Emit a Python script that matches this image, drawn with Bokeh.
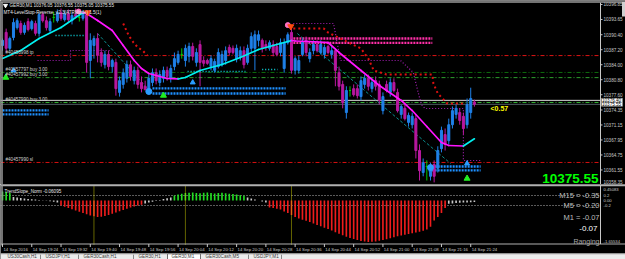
from bokeh.plotting import figure
from bokeh.layouts import column
from bokeh.models import Range1d
from bokeh.embed import file_html
from bokeh.resources import INLINE
from bokeh.core.properties import value

# ---------------- data ----------------
symbol_header = "GER30,M1  10376.05 10376.55 10375.05 10375.55"
indicator_header = "MT4-LevelStop-Reverse_v2.3(ATRMode) 1.5(1)"

bars = list(range(130))  # one-minute bars from 19:16 to 21:25
opens = [10388.1, 10390.9, 10387.5, 10389.8, 10391.9, 10392.8, 10390.9, 10393.2, 10391.7, 10392.8,
         10390.7, 10394.7, 10393.4, 10391.3, 10394.1, 10393.4, 10395.1, 10393.6, 10394.9, 10393.4,
         10394.7, 10394.1, 10393.9, 10394.7, 10384.9, 10388.1, 10389.6, 10386.6, 10384.0, 10386.2,
         10383.6, 10384.5, 10378.1, 10379.8, 10381.1, 10384.0, 10380.6, 10382.8, 10380.2, 10379.4,
         10378.5, 10380.2, 10382.3, 10380.2, 10381.1, 10382.8, 10381.1, 10383.6, 10384.5, 10386.2,
         10384.9, 10385.8, 10387.9, 10384.5, 10388.3, 10384.9, 10384.9, 10383.6, 10382.8, 10383.6,
         10384.0, 10384.9, 10387.7, 10387.5, 10385.3, 10385.8, 10387.0, 10384.5, 10387.5, 10387.5,
         10389.2, 10389.2, 10388.3, 10387.5, 10388.3, 10387.9, 10386.6, 10383.2, 10388.7, 10390.9,
         10382.8, 10382.8, 10386.2, 10389.2, 10385.3, 10387.0, 10388.3, 10386.6, 10386.2, 10387.9,
         10386.2, 10387.0, 10382.3, 10379.8, 10373.8, 10378.5, 10378.9, 10378.9, 10377.2, 10379.8,
         10381.1, 10378.9, 10380.6, 10379.8, 10374.2, 10379.8, 10378.1, 10380.2, 10378.1, 10373.4,
         10374.7, 10371.7, 10371.2, 10372.5, 10365.7, 10361.0, 10362.3, 10360.2, 10362.7, 10361.9,
         10366.1, 10369.1, 10367.8, 10371.2, 10373.4, 10373.8, 10373.0, 10371.2, 10373.8, 10376.05]
highs = [10389.6, 10391.7, 10390.0, 10393.9, 10393.9, 10393.4, 10393.0, 10393.9, 10393.6, 10393.4,
         10395.1, 10395.3, 10394.3, 10393.9, 10395.3, 10395.8, 10396.0, 10395.6, 10395.8, 10395.1,
         10396.0, 10395.1, 10395.6, 10395.1, 10390.7, 10390.2, 10390.7, 10387.5, 10387.0, 10387.0,
         10385.3, 10385.3, 10381.5, 10383.2, 10384.9, 10384.9, 10383.6, 10383.6, 10381.5, 10380.6,
         10381.9, 10383.2, 10383.2, 10382.8, 10383.6, 10383.6, 10384.0, 10386.6, 10387.0, 10387.5,
         10388.3, 10388.7, 10388.7, 10387.5, 10389.2, 10385.8, 10385.3, 10386.0, 10385.3, 10387.5,
         10387.0, 10387.9, 10388.3, 10388.1, 10388.3, 10387.9, 10387.9, 10388.3, 10390.9, 10391.3,
         10391.3, 10389.6, 10389.2, 10389.2, 10389.2, 10388.7, 10389.6, 10389.6, 10390.9, 10391.9,
         10385.8, 10386.0, 10389.6, 10390.0, 10387.5, 10389.2, 10389.2, 10389.2, 10388.3, 10388.3,
         10387.9, 10387.5, 10383.6, 10380.6, 10379.4, 10379.4, 10379.8, 10379.8, 10381.5, 10381.9,
         10381.9, 10381.1, 10381.5, 10380.6, 10378.1, 10380.6, 10381.1, 10381.1, 10378.9, 10375.5,
         10375.5, 10373.8, 10373.8, 10373.4, 10367.0, 10364.0, 10363.6, 10363.1, 10363.6, 10366.6,
         10370.8, 10370.4, 10372.5, 10375.1, 10375.5, 10374.7, 10373.8, 10376.8, 10379.1, 10376.55]
lows = [10387.0, 10386.6, 10387.0, 10389.2, 10391.5, 10390.4, 10390.4, 10391.1, 10391.3, 10390.2,
        10390.0, 10393.0, 10391.3, 10390.9, 10393.0, 10393.0, 10393.4, 10393.2, 10393.0, 10392.6,
        10393.9, 10393.2, 10393.4, 10382.3, 10381.1, 10385.3, 10384.5, 10383.6, 10383.2, 10382.8,
        10382.3, 10377.4, 10377.2, 10378.9, 10380.2, 10380.6, 10379.8, 10378.9, 10378.1, 10378.5,
        10377.6, 10379.4, 10379.8, 10379.4, 10380.2, 10380.6, 10380.2, 10382.8, 10384.0, 10385.3,
        10383.6, 10384.5, 10384.9, 10383.6, 10379.4, 10383.6, 10384.0, 10382.8, 10382.3, 10383.2,
        10383.6, 10384.0, 10386.0, 10386.2, 10384.5, 10384.9, 10383.2, 10384.0, 10386.6, 10382.8,
        10387.9, 10386.6, 10387.0, 10387.0, 10385.8, 10385.8, 10385.8, 10382.3, 10388.3, 10382.1,
        10381.9, 10382.1, 10385.8, 10385.8, 10384.5, 10386.2, 10386.6, 10386.2, 10385.3, 10386.2,
        10385.3, 10379.4, 10378.5, 10374.7, 10372.5, 10377.2, 10377.2, 10376.8, 10376.4, 10378.9,
        10378.5, 10378.1, 10378.5, 10375.5, 10373.4, 10378.1, 10377.2, 10378.1, 10373.8, 10372.5,
        10372.1, 10370.8, 10370.4, 10364.0, 10359.3, 10360.2, 10359.3, 10359.3, 10358.9, 10361.0,
        10365.3, 10365.7, 10367.0, 10370.4, 10372.5, 10371.2, 10369.1, 10370.4, 10372.5, 10375.05]
closes = [10389.2, 10387.5, 10389.6, 10393.0, 10393.4, 10390.9, 10392.4, 10391.5, 10393.2, 10390.7,
          10394.7, 10393.4, 10391.9, 10393.2, 10394.1, 10395.1, 10393.9, 10394.9, 10393.6, 10394.5,
          10394.3, 10394.1, 10394.9, 10384.5, 10389.2, 10389.6, 10386.0, 10384.5, 10386.2, 10383.6,
          10384.9, 10378.9, 10380.6, 10382.3, 10384.0, 10381.5, 10382.8, 10379.8, 10378.9, 10378.7,
          10381.1, 10382.3, 10380.6, 10381.9, 10382.8, 10381.5, 10383.2, 10385.3, 10386.2, 10386.2,
          10387.5, 10387.9, 10385.8, 10386.6, 10384.5, 10384.3, 10384.3, 10385.3, 10384.7, 10386.6,
          10386.2, 10387.0, 10386.6, 10386.6, 10387.5, 10387.0, 10384.0, 10387.5, 10390.0, 10390.4,
          10390.4, 10387.5, 10387.7, 10388.7, 10386.6, 10386.2, 10388.7, 10388.7, 10390.4, 10382.8,
          10385.3, 10384.9, 10388.7, 10386.6, 10386.6, 10388.3, 10387.0, 10388.3, 10387.7, 10386.6,
          10387.0, 10382.8, 10379.4, 10375.9, 10378.5, 10378.5, 10377.6, 10377.4, 10380.6, 10381.1,
          10379.4, 10380.2, 10379.4, 10376.4, 10377.2, 10378.5, 10380.2, 10378.5, 10374.2, 10375.1,
          10372.5, 10373.2, 10373.0, 10365.7, 10361.4, 10363.1, 10362.3, 10362.3, 10360.2, 10365.7,
          10370.0, 10367.0, 10371.2, 10374.2, 10374.7, 10372.1, 10370.4, 10375.5, 10376.8, 10375.55]

# moving average (read at key bars)
ma_bars = [0, 5, 10, 16, 22, 23, 26, 30, 33, 36, 38, 40, 43, 45, 48, 50, 54, 60, 65, 70,
           75, 79, 80, 84, 89, 92, 98, 103, 109, 112, 116, 120, 122, 126, 129]
ma_vals = [10385.33, 10387.03, 10389.59, 10391.94, 10395.14, 10394.93, 10393.43, 10391.30, 10388.10, 10384.90,
           10383.20, 10382.13, 10381.49, 10381.06, 10380.96, 10381.28, 10382.77, 10384.05, 10385.54, 10387.25,
           10388.31, 10389.17, 10389.06, 10388.95, 10388.74, 10386.61, 10382.77, 10379.57, 10376.37, 10374.23,
           10370.82, 10367.41, 10366.77, 10366.66, 10368.20]

# order lines
order_levels = [10385.95, 10382.35, 10381.25, 10375.95, 10363.15]
order_labels = ["#40456998 tp", "#40457797 buy 3.00", "#40457992 buy 3.00", "#40457990 buy 3.00", "#40457990 sl"]
ask_price = 10376.40
bid_price = 10375.55

# level-stop zones (two rows each)
band_start = [0.0, 41.0, 78.7, 116.5]
band_end = [12.6, 77.4, 117.5, 130.7]
band_upper = [10374.25, 10378.95, 10389.60, 10362.30]
band_lower = [10373.40, 10377.85, 10388.65, 10361.45]
band_kind = ["buy", "buy", "sell", "buy"]

# stop lines
purple_stop_a_bars = [9.6, 18.6, 18.6, 29.5]
purple_stop_a_vals = [10384.90, 10384.90, 10387.03, 10387.03]
purple_stop_b_bars = [79.5, 90.5, 92.4, 108.8, 112.3, 113.5, 114.5, 115.5, 126.0, 126.0, 130.7]
purple_stop_b_vals = [10392.79, 10392.79, 10384.90, 10384.90, 10382.34, 10378.50, 10375.51, 10374.66,
                      10374.66, 10363.57, 10363.57]
red_stop_a_bars = [33.0, 34.5, 35.8, 37.0, 38.3, 39.6]
red_stop_a_vals = [10392.79, 10390.23, 10388.74, 10387.67, 10387.03, 10385.97]
red_stop_b_bars = [79.5, 87.8, 89.0, 98.0, 99.0, 100.0, 101.5, 103.3, 105.0, 117.5, 117.8, 119.0, 121.6, 126.0]
red_stop_b_vals = [10391.73, 10391.73, 10390.87, 10387.46, 10386.39, 10385.33, 10382.77, 10382.34, 10381.91,
                   10381.91, 10379.99, 10377.86, 10375.73, 10375.73]
cyan_stop_start = [14.5, 50.6, 71.0]
cyan_stop_end = [22.7, 66.4, 75.2]
cyan_stop_vals = [10390.23, 10382.55, 10382.98]

# trend lines
trend_x0 = [26.0, 80.6]
trend_y0 = [10390.66, 10390.66]
trend_x1 = [39.6, 122.5]
trend_y1 = [10378.93, 10362.93]

# arrows
sell_bars = [23.3, 78.8]
sell_vals = [10395.14, 10392.15]
pink_bars = [20.8, 78.0]
pink_vals = [10395.35, 10392.45]
buy_circle_bars = [40.0, 117.0]
buy_circle_vals = [10378.29, 10362.07]
blue_arrow_bars = [3.0, 52.0, 127.0]
blue_arrow_vals = [10382.77, 10380.21, 10362.93]
green_arrow_bars = [0.9, 44.0, 127.0]
green_arrow_vals = [10381.27, 10377.44, 10359.73]

price_ticks = [10396.85, 10393.65, 10390.40, 10387.20, 10384.00, 10380.80, 10377.60,
               10374.35, 10371.15, 10367.95, 10364.75, 10361.55]
spread_text = "<0.57"
last_price_text = "10375.55"

# TrendSlope_Norm sub-window
slope = [0.36, 0.34, 0.30,
         0.14, 0.12, 0.10, 0.08, 0.06, 0.05,
         0.04, 0.02, 0.01, -0.01, -0.03, -0.05, -0.08,
         -0.20, -0.25, -0.30, -0.35, -0.40, -0.45, -0.50, -0.55, -0.60, -0.63, -0.66, -0.65,
         -0.62, -0.58, -0.53, -0.48, -0.43, -0.38, -0.33, -0.28, -0.24, -0.20, -0.17,
         -0.12, -0.08, -0.05, -0.02, 0.02, 0.06, 0.09, 0.12,
         0.20, 0.24, 0.27, 0.30, 0.31, 0.32, 0.30, 0.29, 0.31, 0.32, 0.30, 0.28, 0.30, 0.31,
         0.29, 0.27, 0.26, 0.24, 0.22, 0.19,
         0.12, 0.08, 0.04, 0.00, -0.04, -0.08,
         -0.28, -0.30, -0.33, -0.36, -0.44, -0.50, -0.58, -0.66, -0.72, -0.77, -0.81, -0.86,
         -0.92, -0.98, -1.03, -1.09, -1.14, -1.20, -1.27, -1.33, -1.39, -1.45, -1.50, -1.54,
         -1.58, -1.62, -1.64, -1.655, -1.65, -1.64, -1.61, -1.58, -1.55, -1.51, -1.47, -1.43,
         -1.40, -1.37, -1.34, -1.31, -1.28, -1.25, -1.21, -1.16, -1.05, -0.80, -0.66, -0.50, -0.30,
         -0.13, -0.12, -0.10, -0.09, -0.08, -0.075, -0.07, -0.061]
slope_title = "TrendSlope_Norm -0.06095"
slope_levels = [0.2, -0.2]
slope_ticks = [0.45083, 0.2, 0.0, -0.2, -1.65534]
slope_tick_labels = ["0.45083", "0.2", "0.00", "-0.2", "-1.65534"]
separator_bars = [25, 50, 79]
mtf_texts = ["M15 = -0.35", "M5 = -0.20", "M1 = -0.07"]
slope_now_text = "-0.07"
state_text = "Ranging"

time_tick_bars = [0, 8, 16, 24, 32, 40, 48, 56, 64, 72, 80, 88, 96, 104, 112, 120, 128]
time_labels = ["14 Sep 2016", "14 Sep 19:24", "14 Sep 19:32", "14 Sep 19:40", "14 Sep 19:48",
               "14 Sep 19:56", "14 Sep 20:04", "14 Sep 20:12", "14 Sep 20:20", "14 Sep 20:28",
               "14 Sep 20:36", "14 Sep 20:44", "14 Sep 20:52", "14 Sep 21:00", "14 Sep 21:08",
               "14 Sep 21:16", "14 Sep 21:24"]

tab_names = ["US30Cash,H1", "USDJPY,H1", "GER30Cash,H1", "GER30,H1", "GER30,M1", "GER30Cash,M5", "USDJPY,M1"]
active_tab = "GER30,M1"

# ---------------- layout helpers (pixel placement of chrome) ----------------
FONT = value("Liberation Sans")
AXC = "#c8c8c8"


def tx(px):
    return (px - 2.0) / 3.658


def py(yp):
    return 10397.70 - yp / 4.6875


def sv(yp):
    return (200.0 - yp) / 25.0


def base_fig(w, h, xr, yr, bg="black"):
    f = figure(width=w, height=h, x_range=xr, y_range=yr, output_backend="svg",
               toolbar_location=None, title=None, x_axis_location=None, y_axis_location=None,
               min_border=0, min_border_left=0, min_border_right=0, min_border_top=0,
               min_border_bottom=0, background_fill_color=bg, border_fill_color=bg,
               outline_line_color=None)
    f.grid.visible = False
    return f


# ---------------- main chart ----------------
main = base_fig(625, 184, Range1d(tx(0), tx(625)), Range1d(py(184), py(0)))

XL, XR = tx(0), tx(600)
n = len(order_levels)
order_colors = ["#e01414", "#0d6b0d", "#2f9f2f", "#35b535", "#d81010"]
main.segment(x0=[XL] * n, x1=[XR] * n, y0=order_levels, y1=order_levels, color=order_colors,
             line_dash="4 2 1 2", line_width=1)
main.segment(x0=[XL, XL], x1=[XR, XR], y0=[ask_price, bid_price], y1=[ask_price, bid_price],
             color=["#d8d8d8", "#4e5b62"], line_width=1)

# zones
band_colors = ["#1e90ff" if k == "buy" else "#ff2fa8" for k in band_kind]
main.segment(x0=band_start, x1=band_end, y0=band_upper, y1=band_upper, color=band_colors,
             line_width=2.4, line_dash="2 1")
main.segment(x0=band_start, x1=band_end, y0=band_lower, y1=band_lower, color=band_colors,
             line_width=2.4, line_dash="2 1")

# stops
main.line(purple_stop_a_bars, purple_stop_a_vals, color="#a81fb8", line_width=1.2, line_dash="1 2")
main.line(purple_stop_b_bars, purple_stop_b_vals, color="#a81fb8", line_width=1.2, line_dash="1 2")
main.line(red_stop_a_bars, red_stop_a_vals, color="#e01010", line_width=2, line_dash="2 3")
main.line(red_stop_b_bars, red_stop_b_vals, color="#e01010", line_width=2, line_dash="2 3")
main.segment(x0=cyan_stop_start, x1=cyan_stop_end, y0=cyan_stop_vals, y1=cyan_stop_vals,
             color="#10e0e8", line_width=1.3, line_dash="1 2")

# trend lines
main.segment(x0=trend_x0, y0=trend_y0, x1=trend_x1, y1=trend_y1, color="#0b8f8f",
             line_width=1, line_dash="3 2")

# candles
cc = ["#00c800" if c == o else ("#1f80e8" if c > o else "#b8189f") for o, c in zip(opens, closes)]
main.segment(x0=bars, y0=lows, x1=bars, y1=highs, color=cc, line_width=1)
main.vbar(x=bars, width=0.55, top=[max(o, c) for o, c in zip(opens, closes)],
          bottom=[min(o, c) for o, c in zip(opens, closes)], fill_color=cc, line_color=cc, line_width=1)

# moving average coloured by direction
ma_cols = ["#00f0f0" if b > a else "#ff14ff" for a, b in zip(ma_vals[:-1], ma_vals[1:])]
main.segment(x0=ma_bars[:-1], y0=ma_vals[:-1], x1=ma_bars[1:], y1=ma_vals[1:], color=ma_cols,
             line_width=1.7, line_cap="round")

# arrows
main.scatter(pink_bars, pink_vals, marker="circle", size=5, color="#ff6fc0")
main.scatter(sell_bars, sell_vals, marker="inverted_triangle", size=6, color="#ff4a10")
main.scatter(buy_circle_bars, buy_circle_vals, marker="circle", size=6, color="#2a9cff")
main.scatter(blue_arrow_bars, blue_arrow_vals, marker="triangle", size=5, color="#2a9cff")
main.scatter(green_arrow_bars, green_arrow_vals, marker="triangle", size=6, color="#22ee22")

# header texts
main.scatter([tx(5)], [py(5)], marker="inverted_triangle", size=4, color="white")
main.text(x=[tx(9), tx(3)], y=[py(5), py(12)], text=[symbol_header, indicator_header],
          text_font=FONT, text_font_size="4.6px", text_color="#e8e8e8",
          text_align="left", text_baseline="middle")
main.text(x=[tx(5)] * n, y=[lv + 0.2 for lv in order_levels], text=order_labels, text_font=FONT,
          text_font_size="4.6px", text_color="#d0d0d0", text_align="left", text_baseline="bottom")

main.text(x=[tx(490)], y=[py(108)], text=[spread_text], text_font=FONT, text_font_size="7px",
          text_font_style="bold", text_color="#ffff00", text_align="left", text_baseline="middle")
main.text(x=[tx(598)], y=[py(177.5)], text=[last_price_text], text_font=FONT, text_font_size="13.5px",
          text_font_style="bold", text_color="#00ff00", text_align="right", text_baseline="middle")

# right price scale
main.segment(x0=[tx(600)], x1=[tx(600)], y0=[py(184)], y1=[py(2)], color=AXC, line_width=1)
main.segment(x0=[tx(600)] * len(price_ticks), x1=[tx(602)] * len(price_ticks), y0=price_ticks,
             y1=price_ticks, color=AXC, line_width=1)
main.text(x=[tx(603)] * len(price_ticks), y=price_ticks, text=[f"{v:.2f}" for v in price_ticks],
          text_font=FONT, text_font_size="4.6px", text_color=AXC, text_align="left", text_baseline="middle")
main.text(x=[tx(603)], y=[py(181.5)], text=["10358.35"], text_font=FONT, text_font_size="4.6px",
          text_color=AXC, text_align="left", text_baseline="middle")
box_w = 21 / 3.658
box_h = 4 / 4.6875
main.rect(x=[tx(611.5)] * 2, y=[ask_price, bid_price], width=box_w, height=box_h,
          fill_color="white", line_color="#909090", line_width=0.5)
main.text(x=[tx(601.5)] * 2, y=[ask_price, bid_price], text=[f"{ask_price:.2f}", f"{bid_price:.2f}"],
          text_font=FONT, text_font_size="4.6px", text_color="black", text_align="left",
          text_baseline="middle")

# frame borders
main.segment(x0=[tx(0)], x1=[tx(625)], y0=[py(1.5)], y1=[py(1.5)], color="#9a9a9a", line_width=1.5)
main.segment(x0=[tx(1.5)], x1=[tx(1.5)], y0=[py(1.5)], y1=[py(184)], color="#9a9a9a", line_width=1.5)
main.quad(left=[tx(621.5)], right=[tx(625)], top=[py(1.5)], bottom=[py(16)], fill_color="#d0d0d0",
          line_color=None)

# ---------------- TrendSlope sub-window (+ time scale and tab bar) ----------------
sub = base_fig(625, 75, Range1d(tx(0), tx(625)), Range1d(sv(259), sv(184)))

sub.segment(x0=[tx(0)] * 2, x1=[tx(600)] * 2, y0=slope_levels, y1=slope_levels, color="#b4b4b4",
            line_width=1, line_dash="1 2")
sc = ["#22dd22" if v >= 0.15 else ("#ee1c1c" if v <= -0.15 else "#c8c8c8") for v in slope]
sub.vbar(x=bars, top=slope, bottom=0, width=0.45, fill_color=sc, line_color=None)

sub.segment(x0=separator_bars, x1=separator_bars, y0=[sv(185)] * 3, y1=[sv(245)] * 3,
            color="#c8c800", line_width=1, line_dash="1 1")

sub.segment(x0=[tx(0)], x1=[tx(625)], y0=[sv(185)], y1=[sv(185)], color="#b0b0b0", line_width=1.5)
sub.segment(x0=[tx(0)], x1=[tx(625)], y0=[sv(243.5)], y1=[sv(243.5)], color="#b0b0b0", line_width=1)
sub.segment(x0=[tx(1.5)], x1=[tx(1.5)], y0=[sv(184)], y1=[sv(245)], color="#9a9a9a", line_width=1.5)
sub.segment(x0=[tx(600)], x1=[tx(600)], y0=[sv(184)], y1=[sv(243.5)], color=AXC, line_width=1)

sub.text(x=[tx(4)], y=[sv(190.5)], text=[slope_title], text_font=FONT, text_font_size="4.6px",
         text_color="#e8e8e8", text_align="left", text_baseline="middle")
sub.text(x=[tx(603)] * len(slope_ticks), y=slope_ticks, text=slope_tick_labels, text_font=FONT,
         text_font_size="4.2px", text_color=AXC, text_align="left", text_baseline="middle")

sub.text(x=[tx(599)] * 3, y=[sv(195), sv(205), sv(217)], text=mtf_texts, text_font=FONT,
         text_font_size="7.5px", text_color="#bdbdbd", text_align="right", text_baseline="middle")
sub.text(x=[tx(597)], y=[sv(228)], text=[slope_now_text], text_font=FONT, text_font_size="8px",
         text_color="#ffffff", text_align="right", text_baseline="middle")
sub.text(x=[tx(599)], y=[sv(240.5)], text=[state_text], text_font=FONT, text_font_size="7px",
         text_color="#a8a8a8", text_align="right", text_baseline="middle")

nt = len(time_tick_bars)
sub.segment(x0=time_tick_bars, x1=time_tick_bars, y0=[sv(243.5)] * nt, y1=[sv(246.5)] * nt,
            color=AXC, line_width=1)
sub.text(x=[t + 0.25 for t in time_tick_bars], y=[sv(249.3)] * nt, text=time_labels, text_font=FONT,
         text_font_size="4.3px", text_color=AXC, text_align="left", text_baseline="middle")

# tab bar
tab_left = [3, 41, 79, 134, 167, 201, 249]
tab_right = [40, 78, 133, 166, 200, 248, 281]
ai = tab_names.index(active_tab)
sub.quad(left=[tx(0)], right=[tx(625)], top=[sv(253)], bottom=[sv(259)], fill_color="#ececec",
         line_color=None)
sub.segment(x0=[tx(0)], x1=[tx(625)], y0=[sv(253.3)], y1=[sv(253.3)], color="#a0a0a0", line_width=1)
sub.quad(left=[tx(tab_left[ai])], right=[tx(tab_right[ai])], top=[sv(253.3)], bottom=[sv(259.5)],
         fill_color="white", line_color="#707070", line_width=1)
seps = [tx(r) for i, r in enumerate(tab_right) if i not in (ai, ai - 1)]
sub.segment(x0=seps, x1=seps, y0=[sv(254.2)] * len(seps), y1=[sv(259)] * len(seps), color="#8a8a8a",
            line_width=1)
sub.text(x=[tx(l + 4) for l in tab_left], y=[sv(256.2)] * len(tab_names), text=tab_names, text_font=FONT,
         text_font_size="4.6px", text_color="#3c3c3c", text_align="left", text_baseline="middle")

layout = column(main, sub, spacing=0)
html = file_html(layout, INLINE, "GER30,M1")
open("out.html", "w").write(html)
